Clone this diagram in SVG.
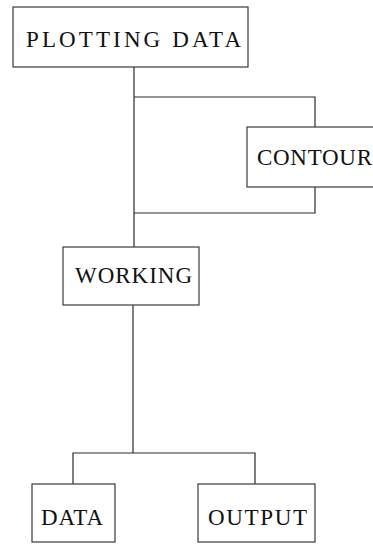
<svg xmlns="http://www.w3.org/2000/svg" width="373" height="545" viewBox="0 0 373 545">
<style>
.box{fill:none;stroke:#3a3a3a;stroke-width:1.2}
.lbl{font-family:"Liberation Serif","Times New Roman",serif;font-size:23px;fill:#111111}
.wire{fill:none;stroke:#2a2a2a;stroke-width:1.2}
</style>
<rect width="373" height="545" fill="#ffffff"/>
<g id="connectors">
<path class="wire" d="M134 67 V247"/>
<path class="wire" d="M134 97 H315 V127"/>
<path class="wire" d="M315 187 V213 H134"/>
<path class="wire" d="M133 305 V453"/>
<path class="wire" d="M73 484 V453 H255 V484"/>
</g>
<g id="plotting-data">
<rect class="box" x="13" y="7" width="235" height="60"/>
<text class="lbl" x="26" y="47" textLength="215" lengthAdjust="spacing">PLOTTING DATA</text>
</g>
<g id="contour">
<rect class="box" x="247" y="127" width="135" height="60"/>
<text class="lbl" x="257" y="165" textLength="115" lengthAdjust="spacing">CONTOUR</text>
</g>
<g id="working">
<rect class="box" x="63" y="247" width="136" height="58"/>
<text class="lbl" x="75" y="283" textLength="117" lengthAdjust="spacing">WORKING</text>
</g>
<g id="data">
<rect class="box" x="32" y="484" width="83" height="58"/>
<text class="lbl" x="41" y="525" textLength="62" lengthAdjust="spacing">DATA</text>
</g>
<g id="output">
<rect class="box" x="198" y="484" width="117" height="58"/>
<text class="lbl" x="208" y="525" textLength="99" lengthAdjust="spacing">OUTPUT</text>
</g>
</svg>
